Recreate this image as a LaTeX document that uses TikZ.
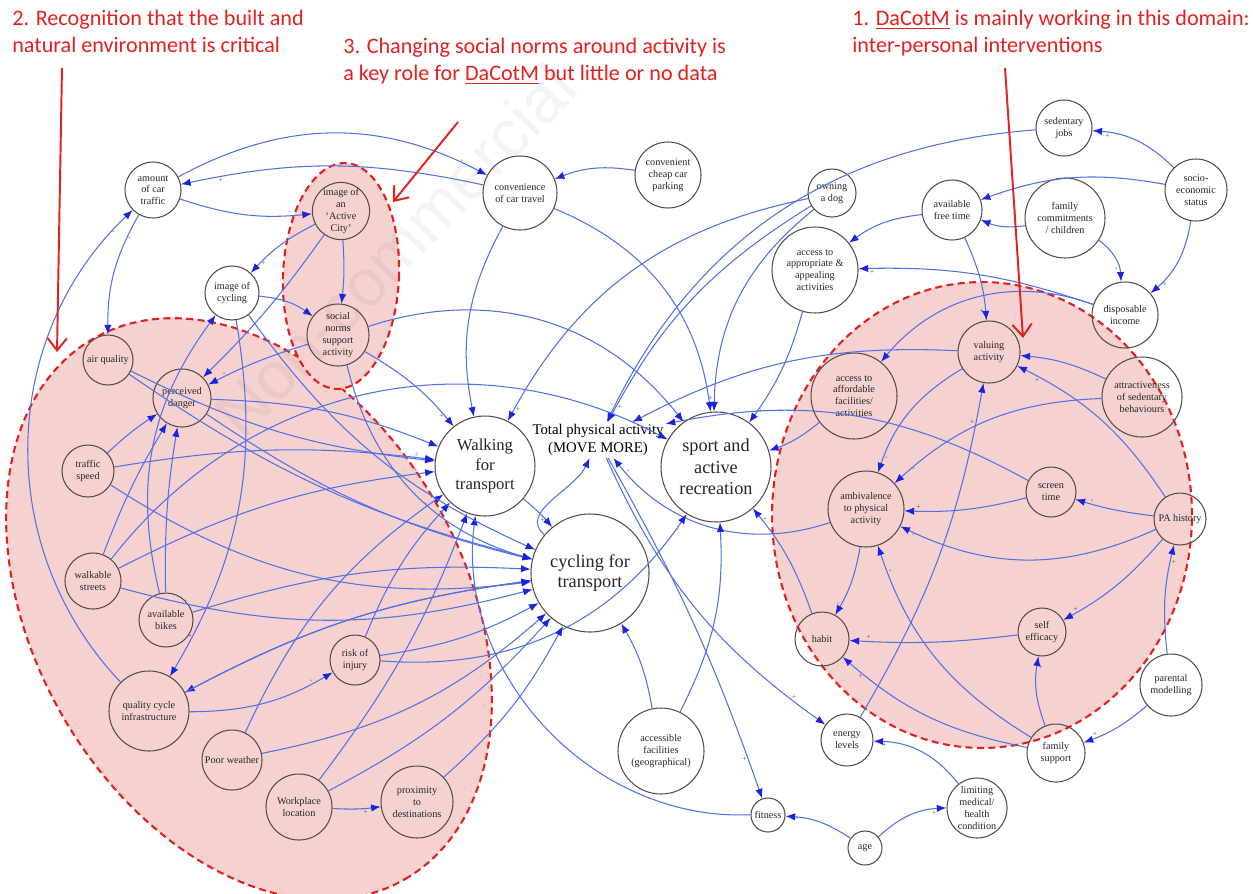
\documentclass[tikz,border=0pt]{standalone}
\usepackage{fontspec}
\setmainfont{Liberation Serif}
\newfontfamily\annfont{Carlito}
\newfontfamily\wmfont{Liberation Sans}
\usetikzlibrary{arrows.meta,backgrounds}
\definecolor{eblue}{RGB}{82,112,232}
\definecolor{ablue}{RGB}{25,35,230}
\definecolor{pinkfill}{RGB}{245,210,208}
\definecolor{redline}{RGB}{228,32,30}
\definecolor{ncol}{RGB}{85,75,75}
\begin{document}
\begin{tikzpicture}[x=0.02cm,y=-0.02cm,
  nd/.style={circle,draw=ncol,line width=0.6pt,minimum size=#1*0.02cm,inner sep=0pt,align=center,
    font=\fontsize{5.8}{6.7}\selectfont,text=black!85},
  e/.style={draw=eblue,line width=0.6pt,-{Latex[length=5.5pt,width=4.2pt,color=ablue]}},
  lbl/.style={font=\fontsize{4.5}{5}\selectfont,text=gray!75!black,inner sep=0.6pt},
  ann/.style={anchor=north west,align=left,text=redline,inner sep=0pt,font=\annfont\fontsize{12.6}{15.3}\selectfont},
  redarrow/.style={draw=redline,line width=1.1pt,-{Straight Barb[length=7pt,width=11pt]}},
  region/.style={draw=redline,fill=pinkfill,line width=1.2pt,dash pattern=on 4pt off 2.5pt}]
\useasboundingbox (0,0) rectangle (1253,893);

% ---------- regions ----------
\path[region,rotate around={-60:(249,609)}] (249,609) ellipse [x radius=6.24cm, y radius=4.3cm];
\path[region,rotate around={-2.5:(341,276)}] (341,276) ellipse [x radius=1.16cm, y radius=2.26cm];
\path[region] (982,515) ellipse [x radius=4.2cm, y radius=4.66cm];

% watermark
\node[rotate=46,text=black,opacity=0.045,font=\wmfont\fontsize{38}{38}\selectfont] (wm) at (395,250) {Non-commercial};

% ---------- nodes ----------
\node[nd=56] (amount) at (153,190) {amount\\of car\\traffic};
\node[nd=56] (city) at (341,211) {image of\\an\\`Active\\City'};
\node[nd=54] (imgcyc) at (232,293) {image of\\cycling};
\node[nd=62] (norms) at (338,335) {social\\norms\\support\\activity};
\node[nd=74] (conv) at (520,193) {convenience\\of car travel};
\node[nd=66] (park) at (668,175) {convenient\\cheap car\\parking};
\node[nd=48] (dog) at (832,193) {owning\\a dog};
\node[nd=56] (sedj) at (1064,128) {sedentary\\jobs};
\node[nd=62] (ses) at (1196,190) {socio-\\economic\\status};
\node[nd=60] (free) at (952,210) {available\\free time};
\node[nd=80] (fam) at (1065,218) {family\\commitments\\/ children};
\node[nd=86] (appr) at (815,270) {access to\\appropriate \&\\appealing\\activities};
\node[nd=66] (inc) at (1125,315) {disposable\\income};
\node[nd=50] (air) at (108,360) {air quality};
\node[nd=58] (danger) at (182,398) {perceived\\danger};
\node[nd=52] (speed) at (88,471) {traffic\\speed};
\node[nd=56] (walkst) at (93,581) {walkable\\streets};
\node[nd=54] (bikes) at (166,620) {available\\bikes};
\node[nd=80] (qci) at (149,711) {quality cycle\\infrastructure};
\node[nd=60] (weather) at (232,760) {Poor weather};
\node[nd=66] (work) at (299,807) {Workplace\\location};
\node[nd=72] (prox) at (417,802) {proximity\\to\\destinations};
\node[nd=50] (injury) at (355,660) {risk of\\injury};
\node[nd=100,font=\fontsize{9.5}{11.3}\selectfont] (W) at (485,466) {Walking\\for\\transport};
\node[nd=110,font=\fontsize{10.4}{12.3}\selectfont] (S) at (716,467) {sport and\\active\\recreation};
\node[nd=118,font=\fontsize{10.4}{11.3}\selectfont] (C) at (590,573) {cycling for\\transport};
\node[align=center,inner sep=1pt,font=\fontsize{8.4}{10.5}\selectfont] (TPA) at (598,440) {Total physical activity\\(MOVE MORE)};
\node[nd=86] (accf) at (661,751) {accessible\\facilities\\(geographical)};
\node[nd=52] (energy) at (847,740) {energy\\levels};
\node[nd=34] (fit) at (768,815) {fitness};
\node[nd=34] (age) at (865,848) {age};
\node[nd=60] (lim) at (977,808) {limiting\\medical/\\health\\condition};
\node[nd=58] (famsup) at (1056,753) {family\\support};
\node[nd=62] (parent) at (1171,685) {parental\\modelling};
\node[nd=48] (selfe) at (1042,632) {self\\efficacy};
\node[nd=54] (habit) at (822,639) {habit};
\node[nd=52] (pah) at (1180,519) {PA history};
\node[nd=50] (screen) at (1051,492) {screen\\time};
\node[nd=76] (amb) at (866,509) {ambivalence\\to physical\\activity};
\node[nd=86] (afford) at (854,396) {access to\\affordable\\facilities/\\activities};
\node[nd=62] (valu) at (989,352) {valuing\\activity};
\node[nd=80] (attr) at (1142,397) {attractiveness\\of sedentary\\behaviours};

% ---------- connectors ----------
\draw[e] (amount) to[bend left=28] node[lbl,pos=.93,above left]{-} (conv);
\draw[e] (conv) to[bend right=12] node[lbl,pos=.88,below]{+} (amount);
\draw[e] (amount) to[bend right=12] node[lbl,pos=.85,above]{-} (city);
\draw[e] (city) to[bend right=10] node[lbl,pos=.85,right]{+} (imgcyc);
\draw[e] (city) to[bend left=5] (norms);
\draw[e] (imgcyc) to[bend left=15] node[lbl,pos=.85,below]{+} (norms);
\draw[e] (amount) to[bend right=15] node[lbl,pos=.2,right]{-} (air);
\draw[e] (qci) to[bend left=45] node[lbl,pos=.95,below]{-} (amount);
\draw[e] (city) to[bend left=5] (danger);
\draw[e] (norms) to[bend right=5] node[lbl,pos=.85,above]{-} (danger);
\draw[e] (park) to[bend right=15] node[lbl,pos=.9,below]{+} (conv);
\draw[e] (conv) to[bend right=20] (W);
\draw[e] (conv) to[bend left=30] (S);
\draw[e] (dog) to[bend right=25] node[lbl,pos=.97,right]{+} (W);
\draw[e] (dog) to[bend right=15] node[lbl,pos=.95,right]{+} (TPA);
\draw[e] (dog) to[bend right=25] node[lbl,pos=.95,left]{+} (S);
\draw[e] (sedj) to[bend right=30] node[lbl,pos=.97,left]{-} (TPA);
\draw[e] (ses) to[bend right=20] node[lbl,pos=.85,below]{+} (sedj);
\draw[e] (ses) to[bend right=15] node[lbl,pos=.9,below]{-} (free);
\draw[e] (ses) to[bend left=20] node[lbl,pos=.85,right]{+} (inc);
\draw[e] (fam) to[bend left=15] node[lbl,pos=.8,above]{-} (free);
\draw[e] (fam) to[bend left=25] node[lbl,pos=.75,left]{-} (inc);
\draw[e] (free) to[bend right=15] node[lbl,pos=.9,below]{-} (appr);
\draw[e] (inc) to[bend right=10] node[lbl,pos=.95,below]{+} (appr);
\draw[e] (inc) to[bend right=35] (afford);
\draw[e] (free) to[bend left=10] node[lbl,pos=.9,left]{+} (valu);
\draw[e] (appr) to[bend left=10] node[lbl,pos=.9,right]{+} (S);
\draw[e] (afford) to[bend left=10] (S);
\draw[e] (habit) to[bend right=10] node[lbl,pos=.9,right]{+} (S);
\draw[e] (valu) to[bend right=15] (TPA);
\draw[e] (valu) to[bend right=20] node[lbl,pos=.9,right]{-} (amb);
\draw[e] (attr) to[bend right=10] node[lbl,pos=.9,below]{-} (valu);
\draw[e] (attr) to[bend right=20] node[lbl,pos=.9,below]{-} (amb);
\draw[e] (pah) to[bend right=15] node[lbl,pos=.9,below]{+} (valu);
\draw[e] (pah) to[bend left=5] node[lbl,pos=.8,above]{-} (screen);
\draw[e] (pah) to[bend left=25] node[lbl,pos=.95,below]{-} (amb);
\draw[e] (pah) to[bend left=10] node[lbl,pos=.9,above]{+} (selfe);
\draw[e] (parent) to[bend left=10] node[lbl,pos=.85,right]{+} (pah);
\draw[e] (parent) to[bend left=10] node[lbl,pos=.85,above]{+} (famsup);
\draw[e] (famsup) to[bend left=15] node[lbl,pos=.85,right]{+} (selfe);
\draw[e] (screen) to[bend left=8] node[lbl,pos=.9,above]{+} (amb);
\draw[e] (screen) to[bend right=20] (TPA);
\draw[e] (amb) to[bend left=10] node[lbl,pos=.85,left]{-} (habit);
\draw[e] (amb) to[bend left=35] node[lbl,pos=.93,right]{-} (TPA);
\draw[e] (selfe) to[bend left=5] node[lbl,pos=.9,above]{+} (habit);
\draw[e] (famsup) to[bend left=15] node[lbl,pos=.9,below]{+} (habit);
\draw[e] (famsup) to[bend left=20] node[lbl,pos=.9,right]{-} (amb);
\draw[e] (energy) to[bend right=10] node[lbl,pos=.9,left]{+} (valu);
\draw[e] (lim) to[bend right=25] node[lbl,pos=.9,below]{+} (energy);
\draw[e] (age) to[bend left=20] node[lbl,pos=.85,below]{+} (lim);
\draw[e] (age) to[bend right=15] node[lbl,pos=.85,below]{-} (fit);
\draw[e] (fit) to[bend left=50] (W);
\draw[e] (TPA) to[bend left=5] node[lbl,pos=.9,left]{+} (fit);
\draw[e] (TPA) to[bend right=15] node[lbl,pos=.9,above]{+} (energy);
\draw[e] (W) to[bend left=5] node[lbl,pos=.8,left]{+} (C);
\draw[e] (C) to[out=140,in=-115] node[lbl,pos=.9,right]{+} (TPA);
\draw[e] (accf) to[bend right=10] node[lbl,pos=.9,left]{+} (C);
\draw[e] (accf) to[bend right=15] (S);
\draw[e] (injury) to[bend right=30] node[lbl,pos=.95,right]{-} (S);
\draw[e] (injury) to[bend left=10] (W);
\draw[e] (injury) to[bend right=10] (C);
\draw[e] (qci) to[bend right=15] node[lbl,pos=.85,above]{-} (injury);
\draw[e] (weather) to[bend left=15] node[lbl,pos=.95,left]{-} (W);
\draw[e] (weather) to[bend right=15] node[lbl,pos=.95,below]{-} (C);
\draw[e] (work) to[bend right=8] (W);
\draw[e] (work) to[bend right=10] (C);
\draw[e] (work) to[bend right=5] node[lbl,pos=.7,below]{+} (prox);
\draw[e] (prox) to[bend right=10] (C);
\draw[e] (norms) to[bend left=10] node[lbl,pos=.9,left]{+} (W);
\draw[e] (norms) to[bend left=35] (S);
\draw[e] (norms) to[bend right=30] (C);
\draw[e] (imgcyc) to[bend right=15] (C);
\draw[e] (imgcyc) to[bend left=20] node[lbl,pos=.9,above]{+} (qci);
\draw[e] (C) to[bend right=10] (qci);
\draw[e] (air) to[bend right=10] node[lbl,pos=.95,above]{-} (W);
\draw[e] (air) to[bend right=10] (C);
\draw[e] (danger) to[bend left=10] node[lbl,pos=.95,left]{-} (W);
\draw[e] (danger) to[bend right=10] (C);
\draw[e] (speed) to[bend left=8] node[lbl,pos=.95,above]{-} (W);
\draw[e] (speed) to[bend right=20] (C);
\draw[e] (speed) to[bend left=5] (danger);
\draw[e] (walkst) to[bend left=10] node[lbl,pos=.95,above]{+} (W);
\draw[e] (walkst) to[bend left=40] node[lbl,pos=.95,above]{+} (S);
\draw[e] (walkst) to[bend left=5] (danger);
\draw[e] (walkst) to[bend right=15] (C);
\draw[e] (bikes) to[bend left=25] (imgcyc);
\draw[e] (bikes) to[bend left=5] (danger);
\draw[e] (bikes) to[bend left=10] (C);
\draw[e] (qci) to[bend left=10] (C);

% ---------- annotations ----------
\node[ann] (ann2) at (12,10) {2. Recognition that the built and\\natural environment is critical};
\node[ann] (ann3) at (343,38) {3. Changing social norms around activity is\\a key role for \underline{DaCotM} but little or no data};
\node[ann] (ann1) at (852,10) {1. \underline{DaCotM} is mainly working in this domain:\\inter-personal interventions};
\coordinate (r2a) at (62,68);
\coordinate (r2b) at (57,352);
\coordinate (r3a) at (458,122);
\coordinate (r3b) at (393,202);
\coordinate (r1a) at (1005,68);
\coordinate (r1b) at (1023,338);
\draw[redarrow] (r2a) -- (r2b);
\draw[redarrow] (r3a) -- (r3b);
\draw[redarrow] (r1a) -- (r1b);
\end{tikzpicture}
\end{document}
